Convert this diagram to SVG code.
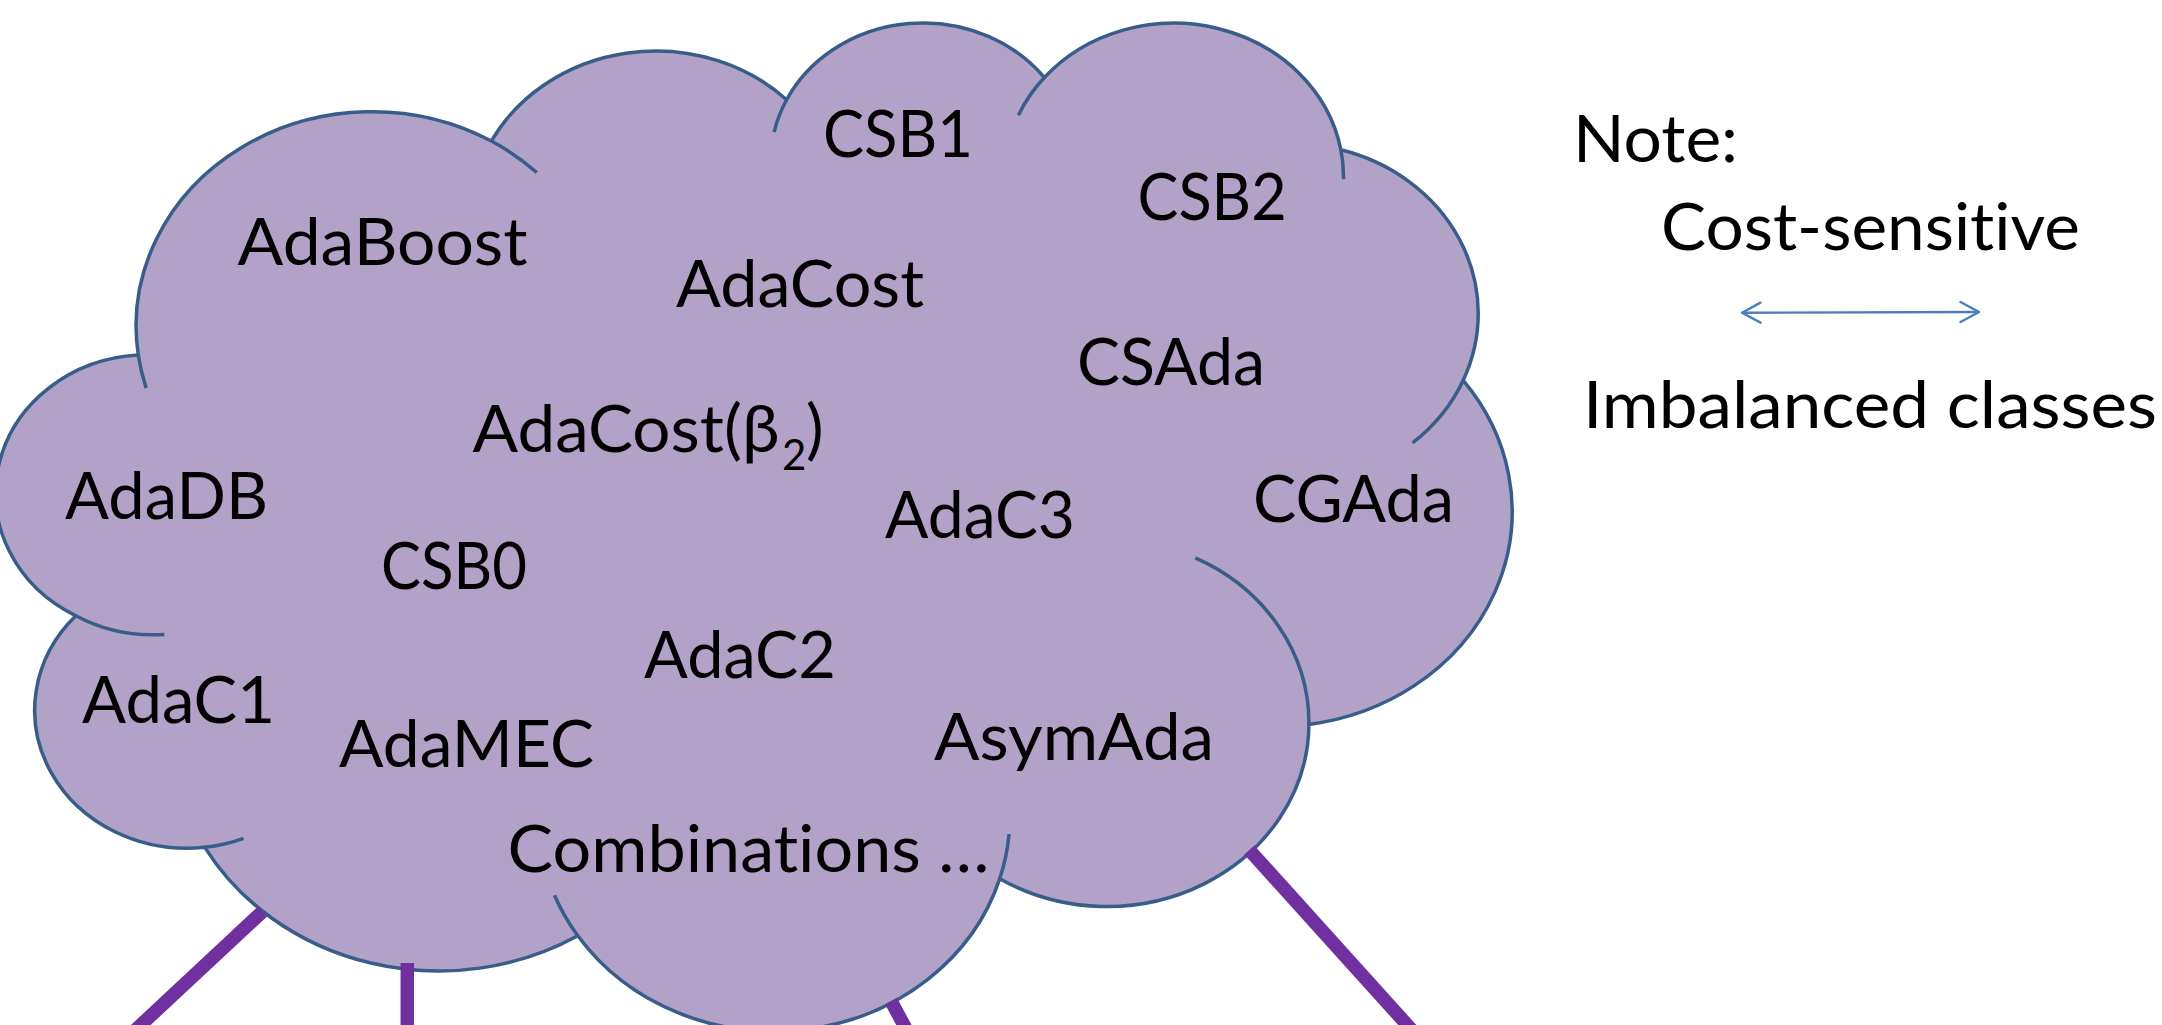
<svg xmlns="http://www.w3.org/2000/svg" width="2162" height="1025" viewBox="0 0 2162 1025">
  <defs>
    <style>
      .cloud { fill: #B3A2C7; stroke: #385D8A; stroke-width: 3.5; vector-effect: non-scaling-stroke; stroke-linejoin: round; }
      .inner { fill: none; stroke: #385D8A; stroke-width: 3.5; vector-effect: non-scaling-stroke; }
      .lbl { font-family: Lato, "Liberation Sans", sans-serif; font-size: 66px; fill: #000000; font-variant-ligatures: none; font-feature-settings: "liga" 0, "clig" 0; }
      .conn { stroke: #7030A0; stroke-width: 13.5; fill: none; }
      .legend { stroke: #4A7EBB; stroke-width: 2.4; fill: none; }
    </style>
    <marker id="openhead" viewBox="-22 -13 25 26" markerWidth="25" markerHeight="26" refX="0" refY="0" orient="auto-start-reverse" markerUnits="userSpaceOnUse">
      <path d="M -18.5 -10 L 0 0 L -18.5 10" fill="none" stroke="#4A7EBB" stroke-width="2.4" stroke-linecap="round" stroke-linejoin="round"/>
    </marker>
  </defs>
  <rect x="0" y="0" width="2162" height="1025" fill="#FFFFFF"/>

  <g id="cloud">
    <g transform="translate(2,19.7) scale(0.03494,0.023333)">
      <path class="cloud" d="M 3900 14370 A 6753 9190 0 0 1 14004.7 5201.8 A 5333 7267 0 0 1 22455.9 3431.0 A 4365 5945 0 0 1 29833.0 2479.4 A 4857 6595 0 0 1 38318.1 5575.0 A 5333 7273 0 0 1 41818.5 15459.1 A 6775 9220 0 0 1 37404.5 30202.5 A 5785 7867 0 0 1 28556.3 36812.8 A 6752 9215 0 0 1 16480.2 39263.4 A 7720 10543 0 0 1 5804.5 35469.4 A 4360 5918 0 0 1 2113.1 25547.7 A 4345 5945 0 0 1 3900 14370 Z"/>
      <path class="inner" d="M 4646.0 26344.4 A 4345 5945 0 0 1 2113.1 25547.7 M 6913.1 35087.9 A 4360 5918 0 0 1 5804.5 35469.4 M 16480.2 39263.4 A 6752 9215 0 0 1 15813.0 37523.7 M 28822.9 34903.9 A 6752 9215 0 0 1 28556.3 36812.8 M 34153.2 23066.7 A 5785 7867 0 0 1 37404.5 30202.5 M 41818.5 15459.1 A 5333 7273 0 0 1 40370.6 18134.9 M 38318.1 5575.0 A 4857 6595 0 0 1 38394.5 6838.4 M 29091.3 4091.3 A 4857 6595 0 0 1 29833.0 2479.4 M 22096.9 4820.7 A 4365 5945 0 0 1 22455.9 3431.0 M 14004.7 5201.8 A 6753 9190 0 0 1 15305.0 6550.6 M 4126.9 15788.4 A 6753 9190 0 0 1 3900 14370"/>
    </g>
  </g>

  <g id="connectors">
    <line class="conn" x1="262.5" y1="911.5" x2="124.7" y2="1040"/>
    <line class="conn" x1="407.3" y1="963" x2="407.3" y2="1040"/>
    <line class="conn" x1="891" y1="1001" x2="912" y2="1040"/>
    <line class="conn" x1="1249.3" y1="850" x2="1420.8" y2="1040"/>
  </g>

  <g id="labels">
    <g id="node-csb1"><text class="lbl" x="823" y="157" textLength="150" lengthAdjust="spacingAndGlyphs">CSB1</text></g>
    <g id="node-adaboost"><text class="lbl" x="237.5" y="265" textLength="290" lengthAdjust="spacingAndGlyphs">AdaBoost</text></g>
    <g id="node-adacost"><text class="lbl" x="676" y="307" textLength="248" lengthAdjust="spacingAndGlyphs">AdaCost</text></g>
    <g id="node-adacost-beta2"><text class="lbl" y="452"><tspan x="472.5" textLength="307" lengthAdjust="spacingAndGlyphs">AdaCost(β</tspan><tspan x="782" y="470" font-size="42">2</tspan><tspan x="806" y="452">)</tspan></text></g>
    <g id="node-adadb"><text class="lbl" x="65" y="518.6" textLength="203" lengthAdjust="spacingAndGlyphs">AdaDB</text></g>
    <g id="node-adac1"><text class="lbl" x="82" y="722.5" textLength="193" lengthAdjust="spacingAndGlyphs">AdaC1</text></g>
    <g id="node-csb0"><text class="lbl" x="381" y="589" textLength="146" lengthAdjust="spacingAndGlyphs">CSB0</text></g>
    <g id="node-adac2"><text class="lbl" x="644" y="678" textLength="192" lengthAdjust="spacingAndGlyphs">AdaC2</text></g>
    <g id="node-adamec"><text class="lbl" x="339" y="767" textLength="255" lengthAdjust="spacingAndGlyphs">AdaMEC</text></g>
    <g id="node-combinations"><text class="lbl" x="507.6" y="871.5" textLength="482" lengthAdjust="spacingAndGlyphs">Combinations …</text></g>
    <g id="node-asymada"><text class="lbl" x="934" y="759.5" textLength="280" lengthAdjust="spacingAndGlyphs">AsymAda</text></g>
    <g id="node-adac3"><text class="lbl" x="885" y="538" textLength="190" lengthAdjust="spacingAndGlyphs">AdaC3</text></g>
    <g id="node-csada"><text class="lbl" x="1077" y="385" textLength="188" lengthAdjust="spacingAndGlyphs">CSAda</text></g>
    <g id="node-cgada"><text class="lbl" x="1253" y="521.5" textLength="201" lengthAdjust="spacingAndGlyphs">CGAda</text></g>
    <g id="node-csb2"><text class="lbl" x="1137.6" y="220" textLength="149" lengthAdjust="spacingAndGlyphs">CSB2</text></g>
  </g>

  <g id="note">
    <text class="lbl" x="1573" y="162" textLength="165" lengthAdjust="spacingAndGlyphs">Note:</text>
    <text class="lbl" x="1661" y="250" textLength="419" lengthAdjust="spacingAndGlyphs">Cost-sensitive</text>
    <line class="legend" x1="1742" y1="312.7" x2="1979" y2="312" marker-start="url(#openhead)" marker-end="url(#openhead)"/>
    <text class="lbl" x="1583" y="428" textLength="574" lengthAdjust="spacingAndGlyphs">Imbalanced classes</text>
  </g>
</svg>
